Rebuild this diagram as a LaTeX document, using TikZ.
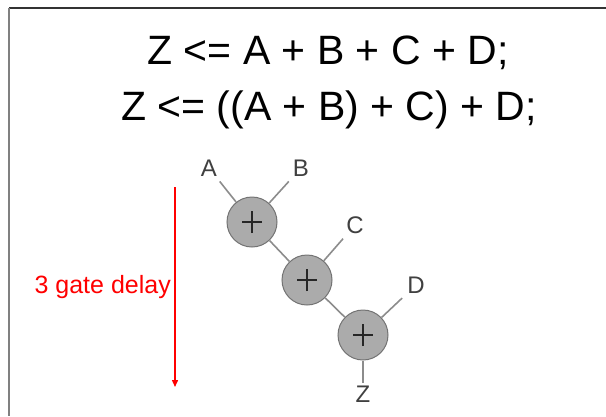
\documentclass[tikz,border=0pt]{standalone}
\usepackage{fontspec}
\setmainfont{Liberation Sans}
\usepackage{xcolor}
\usetikzlibrary{arrows.meta}

\begin{document}
\begin{tikzpicture}[x=1pt, y=-1pt, >={Triangle[length=7pt, width=6pt]},
    adder/.style={circle, draw=black!55, fill=black!33, line width=1pt,
                  minimum size=50pt, inner sep=0pt,
                  path picture={
                    \draw[black!85, line width=1.9pt]
                      ([xshift=-10pt]path picture bounding box.center) --
                      ([xshift=10pt]path picture bounding box.center)
                      ([yshift=-11pt]path picture bounding box.center) --
                      ([yshift=11pt]path picture bounding box.center);}},
    sig/.style={text=black!75, inner sep=5pt, font=\fontsize{24}{24}\selectfont},
    wire/.style={draw=black!45, line width=1.6pt},
    eqn/.style={inner sep=0pt, anchor=base, font=\fontsize{41}{41}\selectfont}]

\useasboundingbox (0,0) rectangle (606,416);

% ── Frame ────────────────────────────────────────────────────────
\draw[black!80, line width=2pt] (9,8) -- (606,8);
\draw[black!50, line width=2.5pt] (9,8) -- (9,416);

% ── Statements ───────────────────────────────────────────────────
\node[eqn] (flat) at (328,64) {Z <= A + B + C + D;};
\node[eqn] (nested) at (329,120) {Z <= ((A + B) + C) + D;};

% ── Adder chain ──────────────────────────────────────────────────
\node[adder] (g1) at (252,222) {};
\node[adder] (g2) at (307,280) {};
\node[adder] (g3) at (363,335) {};

\node[sig] (inA) at (209,168) {A};
\node[sig] (inB) at (301,168) {B};
\node[sig] (inC) at (355,225) {C};
\node[sig] (inD) at (416,285) {D};
\node[sig, inner sep=3pt] (outZ) at (363,394) {Z};

\path[wire] (inA) -- (g1);
\path[wire] (inB) -- (g1);
\path[wire] (g1) -- (g2);
\path[wire] (inC) -- (g2);
\path[wire] (g2) -- (g3);
\path[wire] (inD) -- (g3);
\path[wire] (g3) -- (outZ);

% ── Delay marker ─────────────────────────────────────────────────
\coordinate (delayTop) at (175,187);
\coordinate (delayBot) at (175,387);
\draw[->, red, line width=1.4pt] (delayTop) -- (delayBot);
\node[red, anchor=base east, inner sep=0pt, font=\fontsize{25}{25}\selectfont]
    (delayLbl) at (171,293) {3 gate delay};

\end{tikzpicture}
\end{document}
